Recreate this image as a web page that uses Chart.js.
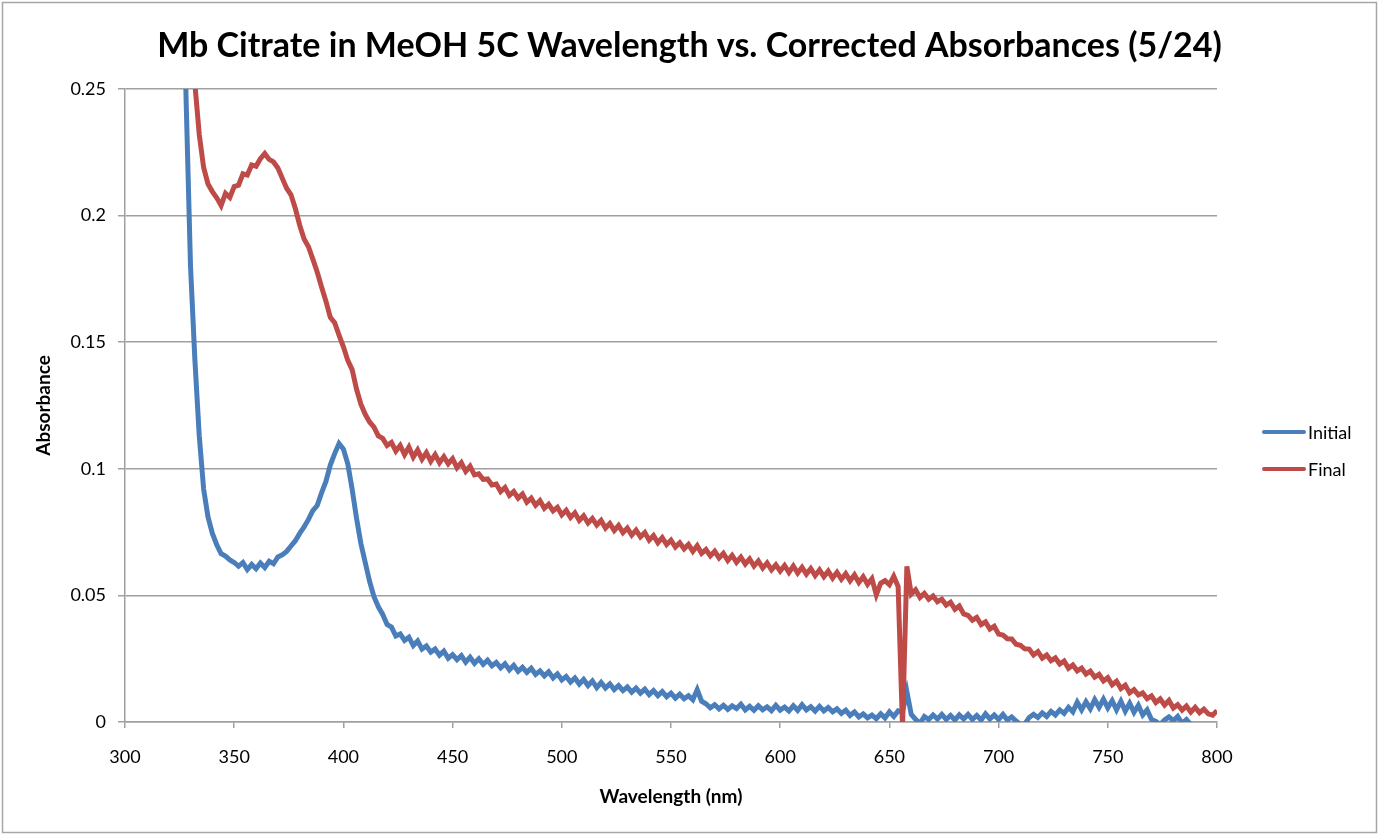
<!DOCTYPE html>
<html>
<head>
<meta charset="utf-8">
<title>Mb Citrate in MeOH 5C</title>
<script src="https://cdn.jsdelivr.net/npm/chart.js@4.4.1/dist/chart.umd.min.js"></script>
<style>
  html, body { margin: 0; padding: 0; background: #fff; }
  canvas { display: block; }
</style>
</head>
<body>
<canvas id="spectraChart" width="1379" height="835"></canvas>
<script>
// wavelengths (nm), 2 nm steps
const wavelengths = [
    326, 328, 330, 332, 334, 336, 338, 340, 342, 344,
    346, 348, 350, 352, 354, 356, 358, 360, 362, 364,
    366, 368, 370, 372, 374, 376, 378, 380, 382, 384,
    386, 388, 390, 392, 394, 396, 398, 400, 402, 404,
    406, 408, 410, 412, 414, 416, 418, 420, 422, 424,
    426, 428, 430, 432, 434, 436, 438, 440, 442, 444,
    446, 448, 450, 452, 454, 456, 458, 460, 462, 464,
    466, 468, 470, 472, 474, 476, 478, 480, 482, 484,
    486, 488, 490, 492, 494, 496, 498, 500, 502, 504,
    506, 508, 510, 512, 514, 516, 518, 520, 522, 524,
    526, 528, 530, 532, 534, 536, 538, 540, 542, 544,
    546, 548, 550, 552, 554, 556, 558, 560, 562, 564,
    566, 568, 570, 572, 574, 576, 578, 580, 582, 584,
    586, 588, 590, 592, 594, 596, 598, 600, 602, 604,
    606, 608, 610, 612, 614, 616, 618, 620, 622, 624,
    626, 628, 630, 632, 634, 636, 638, 640, 642, 644,
    646, 648, 650, 652, 654, 656, 658, 660, 662, 664,
    666, 668, 670, 672, 674, 676, 678, 680, 682, 684,
    686, 688, 690, 692, 694, 696, 698, 700, 702, 704,
    706, 708, 710, 712, 714, 716, 718, 720, 722, 724,
    726, 728, 730, 732, 734, 736, 738, 740, 742, 744,
    746, 748, 750, 752, 754, 756, 758, 760, 762, 764,
    766, 768, 770, 772, 774, 776, 778, 780, 782, 784,
    786, 788, 790, 792, 794, 796, 798, 800
];

const initialAbs = [
    0.320, 0.245, 0.180, 0.143, 0.113, 0.092, 0.081, 0.0745, 0.0700, 0.0665,
    0.0655, 0.0640, 0.0630, 0.0615, 0.0630, 0.0602, 0.0622, 0.0605, 0.0628, 0.0610,
    0.0635, 0.0625, 0.0652, 0.0660, 0.0674, 0.0695, 0.0716, 0.0745, 0.0770, 0.0800,
    0.0835, 0.0855, 0.0905, 0.0950, 0.1015, 0.1060, 0.1100, 0.1078, 0.1020, 0.0920,
    0.0805, 0.0705, 0.0630, 0.0555, 0.0495, 0.0455, 0.0425, 0.0385, 0.0375, 0.0340,
    0.0348, 0.0322, 0.0335, 0.0302, 0.0320, 0.0288, 0.0300, 0.0276, 0.0288, 0.0264,
    0.0280, 0.0252, 0.0266, 0.0246, 0.0262, 0.0236, 0.0256, 0.0232, 0.0250, 0.0228,
    0.0244, 0.0222, 0.0235, 0.0214, 0.0230, 0.0206, 0.0224, 0.0200, 0.0216, 0.0196,
    0.0212, 0.0188, 0.0202, 0.0182, 0.0198, 0.0174, 0.0190, 0.0166, 0.0180, 0.0158,
    0.0174, 0.0150, 0.0168, 0.0144, 0.0162, 0.0136, 0.0156, 0.0134, 0.0150, 0.0128,
    0.0144, 0.0124, 0.0138, 0.0118, 0.0134, 0.0114, 0.0130, 0.0108, 0.0124, 0.0104,
    0.0120, 0.0100, 0.0114, 0.0094, 0.0110, 0.0092, 0.0104, 0.0088, 0.0128, 0.0082,
    0.0072, 0.0056, 0.0068, 0.0052, 0.0066, 0.0050, 0.0064, 0.0053, 0.0070, 0.0048,
    0.0062, 0.0046, 0.0064, 0.0048, 0.0060, 0.0045, 0.0066, 0.0047, 0.0059, 0.0044,
    0.0064, 0.0046, 0.0068, 0.0048, 0.0060, 0.0043, 0.0062, 0.0044, 0.0057, 0.0040,
    0.0052, 0.0034, 0.0047, 0.0026, 0.0040, 0.0020, 0.0032, 0.0016, 0.0027, 0.0013,
    0.0032, 0.0016, 0.0040, 0.0022, 0.0044, 0.0040, 0.0120, 0.0030, 0.0010, -0.0005,
    0.0022, 0.0010, 0.0028, 0.0012, 0.0030, 0.0010, 0.0026, 0.0008, 0.0028, 0.0012,
    0.0030, 0.0010, 0.0026, 0.0008, 0.0032, 0.0012, 0.0028, 0.0010, 0.0030, 0.0008,
    0.0020, 0.0004, -0.0010, -0.0008, 0.0018, 0.0030, 0.0018, 0.0036, 0.0022, 0.0042,
    0.0028, 0.0048, 0.0034, 0.0058, 0.0040, 0.0078, 0.0048, 0.0080, 0.0052, 0.0088,
    0.0058, 0.0090, 0.0056, 0.0084, 0.0048, 0.0082, 0.0043, 0.0074, 0.0038, 0.0066,
    0.0028, 0.0048, 0.0010, 0.0002, -0.0010, 0.0008, 0.0020, 0.0005, 0.0022, -0.0005,
    0.0010, -0.0010, -0.0020, -0.0015, -0.0025, -0.0020, -0.0030, -0.0025
];

const finalAbs = [
    0.340, 0.310, 0.280, 0.252, 0.232, 0.219, 0.2125, 0.2095, 0.2070, 0.2040,
    0.2088, 0.2072, 0.2115, 0.2120, 0.2165, 0.2160, 0.2200, 0.2195, 0.2225, 0.2245,
    0.2222, 0.2212, 0.2188, 0.2148, 0.2108, 0.2082, 0.2028, 0.1962, 0.1908, 0.1877,
    0.1828, 0.1777, 0.1718, 0.1662, 0.1598, 0.1577, 0.1528, 0.1482, 0.1428, 0.1392,
    0.1315, 0.1255, 0.1215, 0.1185, 0.1165, 0.1130, 0.1120, 0.1092, 0.1104, 0.1070,
    0.1092, 0.1056, 0.1086, 0.1046, 0.1074, 0.1038, 0.1064, 0.1030, 0.1056, 0.1024,
    0.1048, 0.1020, 0.1040, 0.1004, 0.1024, 0.0990, 0.1010, 0.0976, 0.0980, 0.0958,
    0.0960, 0.0936, 0.0940, 0.0910, 0.0926, 0.0895, 0.0910, 0.0884, 0.0900, 0.0868,
    0.0884, 0.0856, 0.0874, 0.0844, 0.0860, 0.0834, 0.0848, 0.0818, 0.0836, 0.0808,
    0.0826, 0.0796, 0.0814, 0.0786, 0.0804, 0.0778, 0.0796, 0.0766, 0.0784, 0.0756,
    0.0776, 0.0748, 0.0766, 0.0738, 0.0758, 0.0731, 0.0748, 0.0718, 0.0736, 0.0708,
    0.0728, 0.0701, 0.0718, 0.0691, 0.0708, 0.0684, 0.0701, 0.0674, 0.0696, 0.0666,
    0.0681, 0.0656, 0.0674, 0.0648, 0.0666, 0.0638, 0.0658, 0.0631, 0.0651, 0.0624,
    0.0644, 0.0616, 0.0636, 0.0608, 0.0628, 0.0601, 0.0621, 0.0596, 0.0618, 0.0591,
    0.0616, 0.0588, 0.0611, 0.0584, 0.0606, 0.0578, 0.0601, 0.0574, 0.0596, 0.0568,
    0.0591, 0.0564, 0.0586, 0.0558, 0.0581, 0.0551, 0.0574, 0.0544, 0.0566, 0.0502,
    0.0548, 0.0558, 0.0542, 0.0575, 0.0535, -0.0020, 0.0615, 0.0505, 0.0522, 0.0492,
    0.0508, 0.0485, 0.0498, 0.0475, 0.0485, 0.0462, 0.0473, 0.0445, 0.0458, 0.0427,
    0.0421, 0.0402, 0.0413, 0.0385, 0.0395, 0.0367, 0.0378, 0.0347, 0.0343, 0.0329,
    0.0328, 0.0307, 0.0303, 0.0289, 0.0288, 0.0265, 0.0278, 0.0252, 0.0265, 0.0242,
    0.0253, 0.0229, 0.0241, 0.0212, 0.0225, 0.0202, 0.0213, 0.0189, 0.0201, 0.0177,
    0.0188, 0.0162, 0.0175, 0.0147, 0.0161, 0.0132, 0.0145, 0.0115, 0.0128, 0.0107,
    0.0115, 0.0092, 0.0103, 0.0077, 0.0091, 0.0067, 0.0085, 0.0055, 0.0068, 0.0047,
    0.0063, 0.0039, 0.0058, 0.0037, 0.0051, 0.0032, 0.0027, 0.0045
];

const xTicks = [300, 350, 400, 450, 500, 550, 600, 650, 700, 750, 800];
const yTicks = [0, 0.05, 0.1, 0.15, 0.2, 0.25];
const yTickLabels = ['0', '0.05', '0.1', '0.15', '0.2', '0.25'];
const chartTitle = 'Mb Citrate in MeOH 5C Wavelength vs. Corrected Absorbances (5/24)';

const FONT = 'Lato, "Open Sans", sans-serif';
const GRID_GREY = '#a0a0a0';

// grey frame round the whole chart, and the title centred on the page
const frame = {
    id: 'frame',
    beforeDraw(chart) {
        const ctx = chart.ctx;
        ctx.save();
        ctx.fillStyle = '#fff';
        ctx.fillRect(0, 0, chart.width, chart.height);
        ctx.strokeStyle = '#a6a6a6';
        ctx.lineWidth = 1.5;
        ctx.strokeRect(2.5, 2.5, chart.width - 5, chart.height - 5);
        ctx.fillStyle = '#000';
        ctx.font = 'bold 34px ' + FONT;
        ctx.textAlign = 'center';
        ctx.textBaseline = 'middle';
        ctx.fillText(chartTitle, chart.width / 2, 46);
        ctx.restore();
    }
};

// excel-style legend to the right of the plot
const sideLegend = {
    id: 'sideLegend',
    afterDraw(chart) {
        const ctx = chart.ctx;
        ctx.save();
        ctx.font = '18px ' + FONT;
        ctx.textBaseline = 'middle';
        ctx.lineCap = 'round';
        chart.data.datasets.forEach((ds, i) => {
            const y = 432 + i * 37;
            ctx.strokeStyle = ds.borderColor;
            ctx.lineWidth = 4;
            ctx.beginPath();
            ctx.moveTo(1264, y);
            ctx.lineTo(1304, y);
            ctx.stroke();
            ctx.fillStyle = '#000';
            ctx.fillText(ds.label, 1308, y + 1);
        });
        ctx.restore();
    }
};

const toPoints = ys => wavelengths.map((w, i) => ({ x: w, y: ys[i] }));

new Chart(document.getElementById('spectraChart'), {
    type: 'line',
    data: {
        datasets: [
            {
                label: 'Initial',
                data: toPoints(initialAbs),
                borderColor: '#4a7ebb',
                borderWidth: 5,
                pointRadius: 0,
                tension: 0,
                clip: 0,
                order: 1
            },
            {
                label: 'Final',
                data: toPoints(finalAbs),
                borderColor: '#be4b48',
                borderWidth: 5,
                pointRadius: 0,
                tension: 0,
                clip: 0,
                order: 0
            }
        ]
    },
    options: {
        responsive: false,
        animation: false,
        layout: { padding: { top: 89, left: 0, right: 162, bottom: 0 } },
        plugins: {
            legend: { display: false },
            tooltip: { enabled: false },
            title: { display: false }
        },
        scales: {
            x: {
                type: 'linear',
                min: 300,
                max: 800,
                afterBuildTicks: scale => { scale.ticks = xTicks.map(v => ({ value: v })); },
                afterFit: scale => { scale.height = 113; },
                grid: {
                    drawOnChartArea: false,
                    drawTicks: true,
                    tickLength: 6,
                    color: GRID_GREY,
                    lineWidth: 1.5
                },
                border: { display: true, color: GRID_GREY, width: 1.5 },
                ticks: {
                    color: '#000',
                    padding: 18,
                    maxRotation: 0,
                    font: { family: FONT, size: 18 }
                },
                title: {
                    display: true,
                    text: 'Wavelength (nm)',
                    color: '#000',
                    font: { family: FONT, size: 19, weight: 'bold', lineHeight: 1.2 },
                    padding: { top: 0, bottom: 27 }
                }
            },
            y: {
                min: 0,
                max: 0.25,
                afterBuildTicks: scale => { scale.ticks = yTicks.map(v => ({ value: v })); },
                afterFit: scale => { scale.width = 125; },
                grid: {
                    drawOnChartArea: true,
                    drawTicks: true,
                    tickLength: 7,
                    color: GRID_GREY,
                    lineWidth: 1.5
                },
                border: { display: true, color: GRID_GREY, width: 1.5 },
                ticks: {
                    color: '#000',
                    padding: 12,
                    font: { family: FONT, size: 18 },
                    callback: (value) => {
                        const i = yTicks.indexOf(value);
                        return i >= 0 ? yTickLabels[i] : '';
                    }
                },
                title: {
                    display: true,
                    text: 'Absorbance',
                    color: '#000',
                    font: { family: FONT, size: 19, weight: 'bold', lineHeight: 1.2 },
                    padding: { top: 32, bottom: 0 }
                }
            }
        }
    },
    plugins: [frame, sideLegend]
});
</script>
</body>
</html>
